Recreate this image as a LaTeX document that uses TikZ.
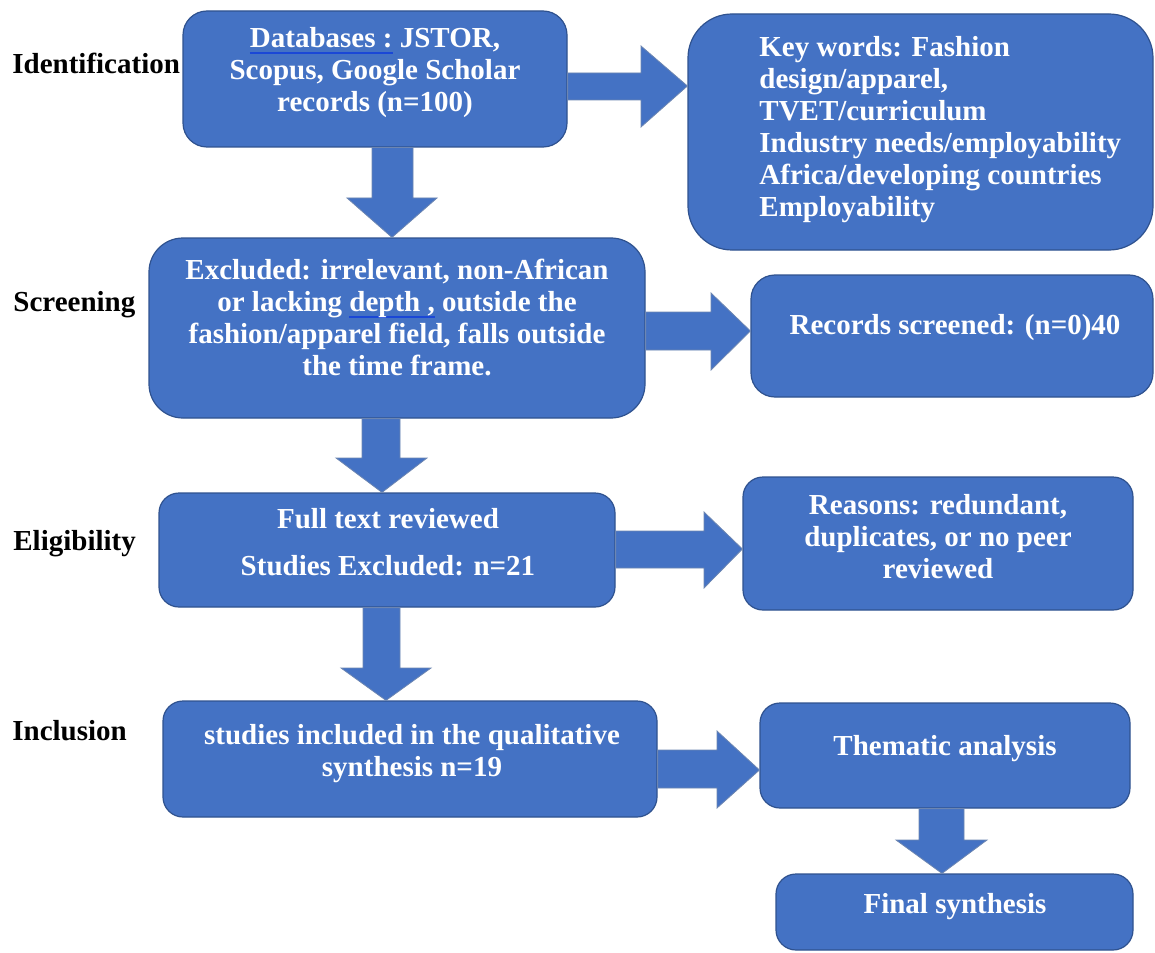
\documentclass[tikz,border=0pt]{standalone}
\usepackage{fontspec}
\setmainfont{Liberation Serif}
\usetikzlibrary{fit,calc}
\definecolor{prismablue}{HTML}{4472C4}
\definecolor{prismaedge}{HTML}{2F528F}
\definecolor{spellblue}{HTML}{1A47D6}
\newsavebox\spellbox
\newcommand{\spellmark}[1]{\sbox\spellbox{#1}\rlap{\textcolor{spellblue}{\rule[-3pt]{\wd\spellbox}{0.7pt}}}\usebox\spellbox}

\begin{document}
\begin{tikzpicture}[x=0.5pt,y=-0.5pt,
  every node/.style={font=\fontsize{14.5}{16}\selectfont\bfseries},
  stage/.style={fill=prismablue,draw=prismaedge,line width=0.6pt,rounded corners=#1,inner sep=0pt},
  stage/.default=10pt,
  boxtext/.style={text=white,align=center,anchor=north,inner sep=0pt},
  phase/.style={anchor=base west,inner sep=0pt},
  blk/.style={fill=prismablue,draw=prismaedge!70,line width=0.4pt}]
\useasboundingbox (0,0) rectangle (1155,952);

\node[phase] (lblident) at (12,74) {Identification};
\node[phase] (lblscreen) at (13,311) {Screening};
\node[phase] (lblelig) at (13,550) {Eligibility};
\node[phase] (lblincl) at (12,740) {Inclusion};

\node[stage=12pt,fit={(183,11) (567,147)}] (ident) {};
\node[stage=22pt,fit={(688,14) (1153,250)}] (keys) {};
\node[stage=17pt,fit={(149,238) (645,418)}] (screen) {};
\node[stage=12pt,fit={(751,275) (1153,397)}] (records) {};
\node[stage,fit={(159,493) (615,607)}] (elig) {};
\node[stage,fit={(743,477) (1133,610)}] (reasons) {};
\node[stage,fit={(163,701) (657,817)}] (incl) {};
\node[stage,fit={(760,703) (1130,808)}] (theme) {};
\node[stage,fit={(776,874) (1133,950)}] (final) {};

\node[boxtext] (identtxt) at (375,27) {\spellmark{Databases :} JSTOR,\\Scopus, Google Scholar\\records (n=100)};
\node[boxtext,anchor=north west,align=left] (keystxt) at (759,36) {Key words: Fashion\\design/apparel,\\TVET/curriculum\\Industry needs/employability\\Africa/developing countries\\Employability};
\node[boxtext] (screentxt) at (397,259) {Excluded: irrelevant, non-African\\or lacking \spellmark{depth ,} outside the\\fashion/apparel field, falls outside\\the time frame.};
\node[boxtext] (recordstxt) at (955,314) {Records screened: (n=0)40};
\node[boxtext] (eligtxt) at (388,508) {Full text reviewed\\[7.5pt]Studies Excluded: n=21};
\node[boxtext] (reasonstxt) at (938,494) {Reasons: redundant,\\duplicates, or no peer\\reviewed};
\node[boxtext] (incltxt) at (412,724) {studies included in the qualitative\\synthesis n=19};
\node[boxtext] (themetxt) at (945,735) {Thematic analysis};
\node[boxtext] (finaltxt) at (955,893) {Final synthesis};

\filldraw[blk] (ident.east |- 0,73) -- (641,73) -- (641,46) -- (keys.west |- 0,86) -- (641,127) -- (641,100) -- (ident.east |- 0,100) -- cycle;
\filldraw[blk] (372,0 |- ident.south) -- (372,198) -- (347,198) -- (392,0 |- screen.north) -- (437,198) -- (413,198) -- (413,0 |- ident.south) -- cycle;
\filldraw[blk] (screen.east |- 0,312) -- (711,312) -- (711,293) -- (records.west |- 0,331) -- (711,370) -- (711,350) -- (screen.east |- 0,350) -- cycle;
\filldraw[blk] (362,0 |- screen.south) -- (362,458) -- (336,458) -- (382,0 |- elig.north) -- (427,458) -- (400,458) -- (400,0 |- screen.south) -- cycle;
\filldraw[blk] (elig.east |- 0,531) -- (704,531) -- (704,512) -- (reasons.west |- 0,549) -- (704,588) -- (704,568) -- (elig.east |- 0,568) -- cycle;
\filldraw[blk] (363,0 |- elig.south) -- (363,668) -- (341,668) -- (386,0 |- incl.north) -- (431,668) -- (400,668) -- (400,0 |- elig.south) -- cycle;
\filldraw[blk] (incl.east |- 0,750) -- (717,750) -- (717,731) -- (theme.west |- 0,770) -- (717,808) -- (717,788) -- (incl.east |- 0,788) -- cycle;
\filldraw[blk] (919,0 |- theme.south) -- (919,840) -- (896,840) -- (942,0 |- final.north) -- (987,840) -- (964,840) -- (964,0 |- theme.south) -- cycle;
\end{tikzpicture}
\end{document}
